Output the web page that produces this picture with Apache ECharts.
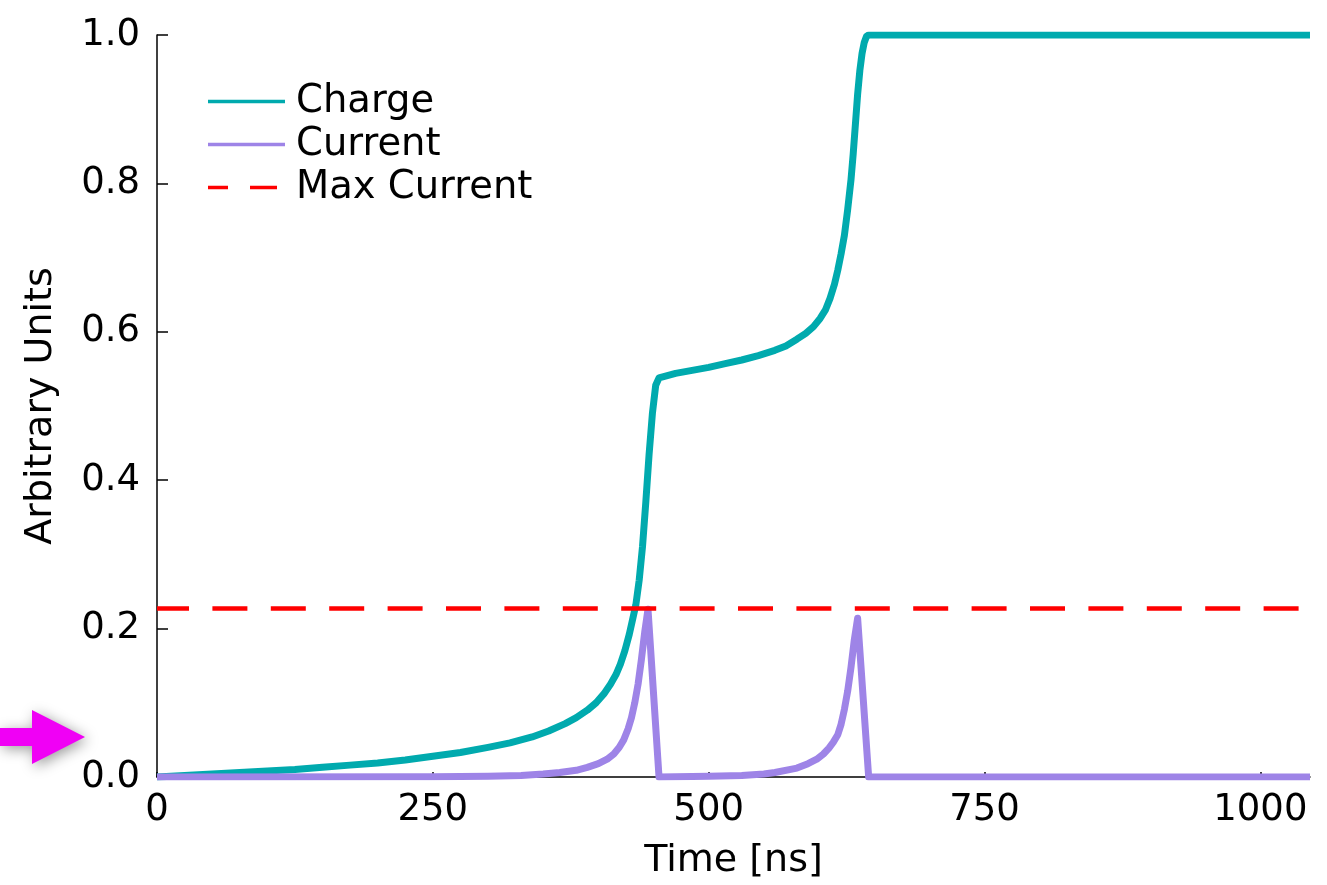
<!DOCTYPE html>
<html>
<head>
<meta charset="utf-8">
<script src="https://cdn.jsdelivr.net/npm/echarts@6/dist/echarts.min.js"></script>
<style>
html,body{margin:0;padding:0;background:#fff;}
#chart{width:1327px;height:885px;}
</style>
</head>
<body>
<div id="chart"></div>
<script>
// Time [ns] and Charge values
const chargeTime = [0, 25, 50, 75, 100, 125, 150, 175, 200, 225, 250, 275, 300, 320, 340, 355, 370, 380, 390, 398, 405, 411, 416, 420, 424, 428, 431, 434, 437, 440, 443, 446, 449, 452, 455,
  470, 485, 500, 515, 530, 545, 560, 570, 580, 588, 595, 601, 606, 610, 614, 617, 620, 623, 626, 629, 631, 633, 635, 637, 639, 641, 643, 645, 1045];
const chargeVals = [0, 0.002, 0.004, 0.006, 0.008, 0.010, 0.013, 0.016, 0.019, 0.023, 0.028, 0.033, 0.040, 0.046, 0.054, 0.062, 0.072, 0.080, 0.090, 0.100, 0.112, 0.125, 0.138, 0.152, 0.170, 0.192, 0.212, 0.232, 0.265, 0.310, 0.370, 0.435, 0.490, 0.528, 0.538,
  0.544, 0.548, 0.552, 0.557, 0.562, 0.568, 0.575, 0.581, 0.590, 0.598, 0.607, 0.618, 0.630, 0.645, 0.664, 0.683, 0.705, 0.730, 0.765, 0.805, 0.840, 0.880, 0.920, 0.952, 0.975, 0.990, 0.998, 1.0, 1.0];

// Time [ns] and Current values
const currentTime = [0, 250, 300, 330, 350, 365, 380, 390, 400, 408, 414, 419, 423, 427, 430, 433, 436, 439, 442, 445, 455,
  500, 530, 550, 560, 580, 590, 598, 604, 609, 613, 617, 620, 623, 626, 629, 632, 635, 645, 1045];
const currentVals = [0, 0.0005, 0.001, 0.002, 0.004, 0.006, 0.009, 0.013, 0.018, 0.024, 0.031, 0.040, 0.050, 0.065, 0.080, 0.100, 0.125, 0.158, 0.195, 0.226, 0,
  0.001, 0.002, 0.004, 0.006, 0.012, 0.018, 0.024, 0.031, 0.039, 0.047, 0.057, 0.071, 0.091, 0.116, 0.148, 0.185, 0.214, 0, 0];

// Max current level
const maxCurrentTime = [0, 1045];
const maxCurrentVals = [0.227, 0.227];

const xTicks = [0, 250, 500, 750, 1000];
const yTicks = [0, 0.2, 0.4, 0.6, 0.8, 1.0];
const seriesNames = ['Charge', 'Current', 'Max Current'];

const zip = (xs, ys) => xs.map((x, i) => [x, ys[i]]);
const FONT = 'DejaVu Sans';
const TEAL = '#00aaae', PURPLE = '#9e84e7', RED = '#ff0000';
const SOLID_ICON = 'path://M0,0h77v3.5h-77z';
const DASH_ICON = 'path://M0,0h20v3.5h-20z M42,0h27v3.5h-27z M77,0L77,0';

const chart = echarts.init(document.getElementById('chart'), null, {renderer: 'canvas'});
chart.setOption({
  animation: false,
  backgroundColor: '#ffffff',
  textStyle: {fontFamily: FONT},
  grid: {left: 157, right: 17, top: 35, bottom: 108, containLabel: false},
  legend: {
    orient: 'vertical',
    left: 208,
    top: 80,
    padding: 0,
    itemWidth: 77,
    itemHeight: 3.5,
    itemGap: 0,
    selectedMode: false,
    data: [
      {name: seriesNames[0], icon: SOLID_ICON},
      {name: seriesNames[1], icon: SOLID_ICON},
      {name: seriesNames[2], icon: DASH_ICON}
    ],
    textStyle: {fontFamily: FONT, fontSize: 38.5, color: '#000', lineHeight: 43, padding: [0, 0, 0, 6]}
  },
  xAxis: {
    type: 'value',
    min: 0,
    max: 1045,
    interval: 250,
    name: 'Time [ns]',
    nameLocation: 'middle',
    nameGap: 65,
    nameTextStyle: {fontFamily: FONT, fontSize: 38, color: '#000'},
    axisLine: {show: true, lineStyle: {color: '#000', width: 1.5}},
    axisTick: {show: true, inside: true, length: 5, lineStyle: {color: '#000', width: 1.5}, customValues: xTicks},
    axisLabel: {fontFamily: FONT, fontSize: 37, color: '#000', margin: 15, customValues: xTicks, formatter: v => String(v)},
    splitLine: {show: false}
  },
  yAxis: {
    type: 'value',
    min: 0,
    max: 1,
    interval: 0.2,
    name: 'Arbitrary Units',
    nameLocation: 'middle',
    nameGap: 97,
    nameTextStyle: {fontFamily: FONT, fontSize: 38, color: '#000'},
    axisLine: {show: true, lineStyle: {color: '#000', width: 1.5}},
    axisTick: {show: true, inside: true, length: 11, lineStyle: {color: '#000', width: 1.5}, customValues: yTicks},
    axisLabel: {fontFamily: FONT, fontSize: 37, color: '#000', margin: 17, formatter: v => v.toFixed(1), customValues: yTicks},
    splitLine: {show: false}
  },
  series: [
    {
      name: seriesNames[0], type: 'line', symbol: 'none', showSymbol: false,
      data: zip(chargeTime, chargeVals),
      lineStyle: {color: TEAL, width: 7, join: 'round', cap: 'butt'},
      itemStyle: {color: TEAL}
    },
    {
      name: seriesNames[1], type: 'line', symbol: 'none', showSymbol: false,
      data: zip(currentTime, currentVals),
      lineStyle: {color: PURPLE, width: 7, join: 'round', cap: 'butt'},
      itemStyle: {color: PURPLE}
    },
    {
      name: seriesNames[2], type: 'line', symbol: 'none', showSymbol: false,
      data: zip(maxCurrentTime, maxCurrentVals),
      lineStyle: {color: RED, width: 4.5, type: [35, 23.4], dashOffset: 3},
      itemStyle: {color: RED}
    }
  ],
  graphic: [
    {
      type: 'polygon',
      shape: {points: [[0, 728], [32, 728], [32, 710], [85, 737], [32, 764], [32, 746], [0, 746]]},
      style: {fill: '#f000f5', shadowBlur: 14, shadowColor: 'rgba(0,0,0,0.4)', shadowOffsetX: 3, shadowOffsetY: 3},
      z: 100
    }
  ]
});
</script>
</body>
</html>
